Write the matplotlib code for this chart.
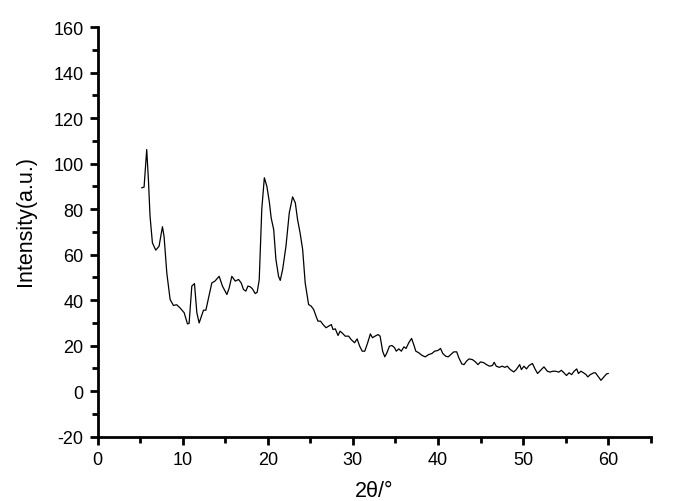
import matplotlib
matplotlib.use('Agg')
import matplotlib.pyplot as plt
import numpy as np
from matplotlib.ticker import MultipleLocator

# XRD pattern, values
two_theta = [5.2, 5.47, 5.78, 5.98, 6.17, 6.45, 6.84, 7.23, 7.63, 7.82, 8.14, 8.53, 8.92,
             9.3, 9.7, 10.18, 10.57, 10.76, 11.08, 11.39, 11.67, 11.94, 12.45, 12.73, 13.43,
             13.8, 14.29, 14.68, 15.2, 15.47, 15.78, 16.18, 16.57, 16.88, 17.15, 17.43, 17.67,
             17.94, 18.2, 18.53, 18.76, 19.0, 19.3, 19.6, 19.9, 20.2, 20.4, 20.7, 20.96,
             21.27, 21.47, 21.75, 22.14, 22.53, 22.92, 23.24, 23.5, 23.8, 24.1, 24.4, 24.8,
             25.1, 25.4, 25.67, 25.9, 26.2, 26.5, 26.85, 27.15, 27.47, 27.67, 27.94, 28.26,
             28.5, 28.8, 29.1, 29.5, 29.8, 30.2, 30.5, 30.8, 31.1, 31.4, 31.74, 32.06, 32.3,
             32.6, 32.97, 33.2, 33.5, 33.75, 34.0, 34.3, 34.6, 34.9, 35.1, 35.4, 35.7, 36.0,
             36.25, 36.57, 36.9, 37.15, 37.4, 37.74, 38.1, 38.5, 38.9, 39.3, 39.6, 40.0, 40.3,
             40.56, 40.9, 41.2, 41.5, 41.86, 42.2, 42.45, 42.8, 43.06, 43.35, 43.65, 44.05,
             44.4, 44.7, 45.0, 45.4, 45.7, 46.06, 46.4, 46.6, 46.85, 47.2, 47.55, 47.86, 48.14,
             48.5, 48.9, 49.2, 49.6, 49.8, 50.1, 50.4, 50.7, 51.1, 51.4, 51.7, 52.06, 52.45,
             52.85, 53.15, 53.5, 53.8, 54.2, 54.5, 54.8, 55.1, 55.4, 55.7, 56.0, 56.3, 56.5,
             56.8, 57.1, 57.4, 57.6, 57.9, 58.3, 58.5, 58.85, 59.15, 59.5, 59.8, 60.0]
intensity = [89.4, 89.7, 106.2, 93, 77, 65.2, 62, 63.7, 72.3, 68, 52, 40.3, 37.7,
             38, 36.6, 34.5, 29.6, 29.8, 46.2, 47.3, 34.5, 30, 35.6, 35.6, 47.6,
             48.4, 50.5, 46.2, 42.5, 45.4, 50.5, 48.4, 49.1, 47.6, 44.7, 44, 46.2,
             45.9, 45, 42.9, 43.5, 49, 80, 93.8, 90, 82.8, 76.2, 71, 57.9,
             50.5, 48.7, 53.5, 63.7, 78.4, 85.4, 82.8, 75.5, 69.6, 62.3, 47.6, 38.1,
             37.4, 35.9, 33, 30.8, 30.8, 29.3, 27.9, 28.6, 29.3, 27.1, 27.4, 24.5,
             26.4, 25.4, 24.2, 24.2, 22.7, 21.3, 23, 19.8, 17.6, 17.6, 21.3, 25.2, 23.5,
             24.2, 24.9, 24.2, 17.6, 15.1, 16.9, 19.8, 20.1, 19.1, 17.6, 18.6, 17.6, 19.5,
             18.8, 21.3, 23.2, 20.5, 17.6, 16.9, 15.8, 15.1, 16.1, 16.6, 17.6, 17.9, 18.8,
             16.6, 15.4, 15.1, 16.1, 17.3, 17.3, 14.7, 12, 11.7, 13.2, 14.2, 13.9,
             12.9, 11.7, 12.9, 12.5, 11.7, 11, 11.3, 12.7, 11, 10.5, 11, 10.5, 11,
             9.5, 8.5, 9.5, 11.7, 9.5, 11, 9.8, 11.3, 12.2, 9.8, 7.8, 9.2, 10.7,
             8.8, 8.4, 8.8, 8.8, 8.4, 9.2, 8.1, 6.9, 8.1, 7.3, 8.8, 9.8, 7.8,
             8.8, 8.1, 7.3, 6.3, 7.3, 8.1, 8.1, 6.3, 4.8, 6.3, 7.6, 7.8]

plt.rcParams['font.family'] = ['Liberation Sans', 'DejaVu Sans']
plt.rcParams['axes.unicode_minus'] = False
plt.rcParams['xtick.direction'] = 'out'
plt.rcParams['ytick.direction'] = 'out'

fig = plt.figure(figsize=(6.8, 5.02), dpi=100)
ax = fig.add_axes([0.1434, 0.128, 0.8136, 0.816])

ax.plot(two_theta, intensity, color='black', linewidth=0.9)

ax.set_xlim(0, 65)
ax.set_ylim(-20, 160)
ax.xaxis.set_major_locator(MultipleLocator(10))
ax.xaxis.set_minor_locator(MultipleLocator(5))
ax.yaxis.set_major_locator(MultipleLocator(20))
ax.yaxis.set_minor_locator(MultipleLocator(10))
ax.set_xticks([0, 10, 20, 30, 40, 50, 60])

ax.spines['top'].set_visible(False)
ax.spines['right'].set_visible(False)
for side in ('left', 'bottom'):
    ax.spines[side].set_linewidth(2)

ax.tick_params(which='major', length=6, width=2, labelsize=13, pad=4)
ax.tick_params(which='minor', length=4, width=2)

ax.set_xlabel('2θ/°', fontsize=15.5, labelpad=9)
ax.set_ylabel('Intensity(a.u.)', fontsize=15.5, va='center')
ax.yaxis.set_label_coords(-0.13, 0.53)

fig.savefig('out.png', dpi=100)
